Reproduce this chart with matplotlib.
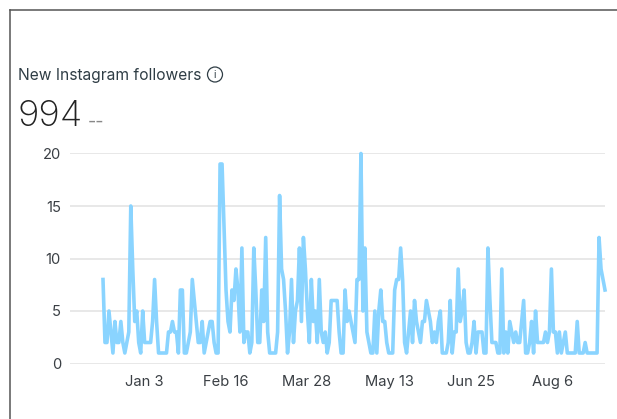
import matplotlib
matplotlib.use("Agg")
import matplotlib.pyplot as plt
from matplotlib.lines import Line2D
from matplotlib.patches import Circle

W, H = 617, 419
plt.rcParams['font.family'] = ['Inter', 'DejaVu Sans']

title = "New Instagram followers"
total = "994"
y_ticks = [0, 5, 10, 15, 20]
tick_labels = ["Jan 3", "Feb 16", "Mar 28", "May 13", "Jun 25", "Aug 6"]
tick_index = [20.5, 61.5, 102, 143, 184, 225]

part1 = [8,2,2,5,3,1,4,2,2,4,2,1,2,3,15,9,4,5,2,1,5,2,2,2,2,4,8,4,1,1,1,1,1,3,3,4,3,3,1,7,7,
         1,1,2,3,8,6,4,2,2,4,1,2,3,4,4,2,1,1,19,19,13,7,4,3,7,6,9,7,3,11,2,3,3,1,2,11,7,2,2]
part2 = [7,4,12,3,1,1,1,1,3,16,9,8,5,1,3,8,2,5,6,11,4,12,9,5,2,8,4,5,2,8,3,2,3,1,2,6,6,6,6,3,1,
         1,7,4,5,4,3,2,8,8,20,5,11,3,2,1,1,5,1,5,7,4,4,2,1,1,1,7,8,8,11,8,2,1,3,5,2,6,4,3,2,4,
         4,6,5]
part3 = [4,2,3,2,4,5,1,1,1,2,6,1,3,3,9,4,5,7,2,1,1,2,4,1,3,3,3,1,1,11,6,2,2,2,1,1,9,1,3,1,
         4,3,2,3,2,2,4,6,1,1,2,4,1,5,2,2,2,2,3,2,3,9,3,3,1,3,1,2,3,1,1,1,1,1,4,1,1,1,2,1,1,
         1,1,1,1,12,9,8,7]
values = part1 + part2 + part3

GRID_L, GRID_R, Y20, Y0, LINE_L, LINE_R = 70, 605, 153.5, 363.5, 103, 605

fig = plt.figure(figsize=(W / 100, H / 100), dpi=100, facecolor="white")
ax = fig.add_axes([GRID_L / W, 1 - Y0 / H, (GRID_R - GRID_L) / W, (Y0 - Y20) / H])
step = (LINE_R - LINE_L) / (len(values) - 1)
ax.set_xlim(-(LINE_L - GRID_L) / step, (GRID_R - LINE_L) / step)
ax.set_ylim(0, 20)
for s in ax.spines.values():
    s.set_visible(False)
ax.set_yticks(y_ticks)
ax.set_xticks([t * (len(values) - 1) / 251 for t in tick_index])
ax.set_xticklabels(tick_labels)
ax.tick_params(length=0, labelsize=10.6, labelcolor="#3a3f44")
ax.tick_params(axis="x", pad=8.5)
ax.tick_params(axis="y", pad=6.5)
ax.grid(axis="y", color="#e2e2e2", lw=1.1)
ax.set_axisbelow(True)
ax.plot(range(len(values)), values, color="#8AD4FF", lw=2.6, clip_on=False,
        solid_joinstyle="round")

fig.add_artist(Line2D([10 / W, 1], [1 - 10 / H] * 2, color="#555555", lw=1.1))
fig.add_artist(Line2D([10 / W, 10 / W], [0, 1 - 10 / H], color="#555555", lw=1.1))
fig.text(18 / W, 1 - 75 / H, title, fontsize=11.2, color="#2f3d45", va="center", ha="left")
fig.text(18 / W, 1 - 116.5 / H, total, fontsize=26.5, color="#222222", va="center", ha="left",
         fontweight="light")
fig.text(87.5 / W, 1 - 122 / H, "--", fontsize=13, color="#888888", va="center", ha="left")
ax_ov = fig.add_axes([0, 0, 1, 1], facecolor="none")
ax_ov.set_xlim(0, W)
ax_ov.set_ylim(H, 0)
ax_ov.axis("off")
ax_ov.add_patch(Circle((215, 74.5), 7.5, fill=False, ec="#2f3d45", lw=0.9))
ax_ov.text(215, 74.8, "i", fontsize=7.5, color="#2f3d45", ha="center", va="center")
fig.savefig("out.png", dpi=100)
